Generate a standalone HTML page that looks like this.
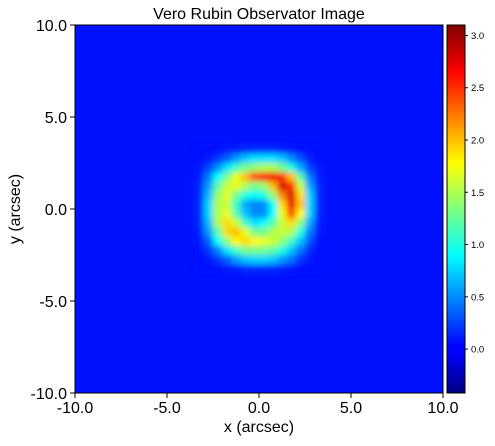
<!DOCTYPE html>
<html><head><meta charset="utf-8"><style>
body{margin:0;background:#fff;width:495px;height:441px;overflow:hidden;font-family:"Liberation Sans",sans-serif}
</style></head><body>
<svg id="chart" width="495" height="441" xmlns="http://www.w3.org/2000/svg">
<defs>
<filter id="soft" x="-20%" y="-20%" width="140%" height="140%"><feGaussianBlur stdDeviation="3"/></filter>
<linearGradient id="jetgrad" x1="0" y1="1" x2="0" y2="0">
<stop offset="0" stop-color="#00007f"/><stop offset="0.11" stop-color="#0000ff"/><stop offset="0.125" stop-color="#0000ff"/>
<stop offset="0.375" stop-color="#00ffff"/><stop offset="0.625" stop-color="#ffff00"/>
<stop offset="0.875" stop-color="#ff0000"/><stop offset="1" stop-color="#7f0000"/>
</linearGradient>
</defs>
<text x="259" y="19" text-anchor="middle" font-size="16">Vero Rubin Observator Image</text>
<rect id="bg" x="75" y="25" width="368" height="368" fill="#0524fa"/>
<g id="cells" filter="url(#soft)"></g>
<rect x="75" y="25" width="368" height="368" fill="none" stroke="#000" stroke-width="1"/>
<g id="axes"></g>
<text x="259" y="432" text-anchor="middle" font-size="16">x (arcsec)</text>
<text transform="translate(20,209) rotate(-90)" text-anchor="middle" font-size="16">y (arcsec)</text>
<rect x="447" y="25" width="18" height="368" fill="url(#jetgrad)" stroke="#000" stroke-width="1"/>
<g id="cbar"></g>
</svg>
<script>
const xTicks=[-10,-5,0,5,10];
const yTicks=[-10,-5,0,5,10];
const cbarTicks=[0,0.5,1,1.5,2,2.5,3];
const vmin=-0.42, vmax=3.1;
const backgroundFlux=0.08;
const gridX=[-3.25,-2.75,-2.25,-1.75,-1.25,-0.75,-0.25,0.25,0.75,1.25,1.75,2.25,2.75,3.25];
const gridY=[3.25,2.75,2.25,1.75,1.25,0.75,0.25,-0.25,-0.75,-1.25,-1.75,-2.25,-2.75,-3.25];
const cellStep=0.5;
const flux=[
[0.08,0.08,0.08,0.1,0.12,0.15,0.15,0.15,0.15,0.12,0.1,0.08,0.08,0.08],
[0.08,0.1,0.2,0.35,0.55,0.7,0.8,0.8,0.8,0.7,0.5,0.3,0.12,0.08],
[0.1,0.25,0.5,0.8,1.1,1.3,1.4,1.5,1.5,1.3,1.0,0.6,0.25,0.1],
[0.12,0.45,0.9,1.3,1.7,2.0,2.4,2.6,2.7,2.5,2.0,1.2,0.45,0.12],
[0.15,0.55,1.2,1.6,1.7,1.5,1.3,1.4,2.0,2.8,2.5,1.6,0.6,0.15],
[0.15,0.65,1.4,1.7,1.3,1.0,0.9,1.0,1.4,2.2,2.8,1.9,0.75,0.15],
[0.15,0.75,1.5,1.6,1.1,0.6,0.45,0.5,0.9,1.9,2.7,2.0,0.75,0.15],
[0.15,0.75,1.5,1.7,1.2,0.7,0.5,0.5,0.9,1.7,2.4,1.8,0.75,0.15],
[0.15,0.65,1.5,1.9,1.6,1.1,0.8,0.9,1.2,1.6,1.9,1.4,0.6,0.12],
[0.12,0.55,1.2,1.9,2.0,1.7,1.3,1.3,1.5,1.6,1.5,1.0,0.45,0.1],
[0.1,0.35,0.9,1.4,1.8,1.9,1.8,1.7,1.6,1.4,1.1,0.7,0.3,0.08],
[0.08,0.2,0.45,0.8,1.1,1.3,1.3,1.3,1.2,1.0,0.7,0.4,0.15,0.08],
[0.08,0.1,0.2,0.35,0.55,0.7,0.75,0.75,0.7,0.55,0.4,0.2,0.1,0.08],
[0.08,0.08,0.08,0.1,0.12,0.15,0.15,0.15,0.15,0.12,0.1,0.08,0.08,0.08]];
const NS="http://www.w3.org/2000/svg";
const px=v=>75+(v+10)/20*368;
const py=v=>393-(v+10)/20*368;
const cy=v=>393-(v-vmin)/(vmax-vmin)*368;
function jet(v){let t=(v-vmin)/(vmax-vmin);t=Math.max(0,Math.min(1,t));
 const c=x=>Math.round(255*Math.max(0,Math.min(1,x)));
 const r=c(Math.min(4*t-1.5,-4*t+4.5)),g=c(Math.min(4*t-0.5,-4*t+3.5)),b=c(Math.min(4*t+0.5,-4*t+2.5));
 return `rgb(${r},${g},${b})`;}
function mk(tag,attrs,parent){const e=document.createElementNS(NS,tag);for(const k in attrs)e.setAttribute(k,attrs[k]);parent.appendChild(e);return e;}
document.getElementById('bg').setAttribute('fill',jet(backgroundFlux));
const cells=document.getElementById('cells');
const w=cellStep/20*368;
for(let i=0;i<gridY.length;i++)for(let j=0;j<gridX.length;j++){
 const r=mk('rect',{x:px(gridX[j]-cellStep/2),y:py(gridY[i]+cellStep/2),width:w+0.5,height:w+0.5,fill:jet(flux[i][j])},cells);
 
 
}
const axes=document.getElementById('axes');
xTicks.forEach(v=>{
 const l=mk('line',{x1:px(v),x2:px(v),y1:393,y2:398,stroke:'#000'},axes);
 
 
 const t=mk('text',{x:px(v),y:413,'text-anchor':'middle','font-size':16},axes);
 t.textContent=v.toFixed(1);
 
 
});
yTicks.forEach(v=>{
 const l=mk('line',{x1:70,x2:75,y1:py(v),y2:py(v),stroke:'#000'},axes);
 
 
 const t=mk('text',{x:67,y:py(v)+6,'text-anchor':'end','font-size':16},axes);
 t.textContent=v.toFixed(1);
 
 
});
const cb=document.getElementById('cbar');
cbarTicks.forEach(v=>{
 const l=mk('line',{x1:465,x2:468,y1:cy(v),y2:cy(v),stroke:'#000'},cb);
 
 
 const t=mk('text',{x:471,y:cy(v)+3.5,'font-size':9.5},cb);
 t.textContent=v.toFixed(1);
 
 
});
</script>
</body></html>
